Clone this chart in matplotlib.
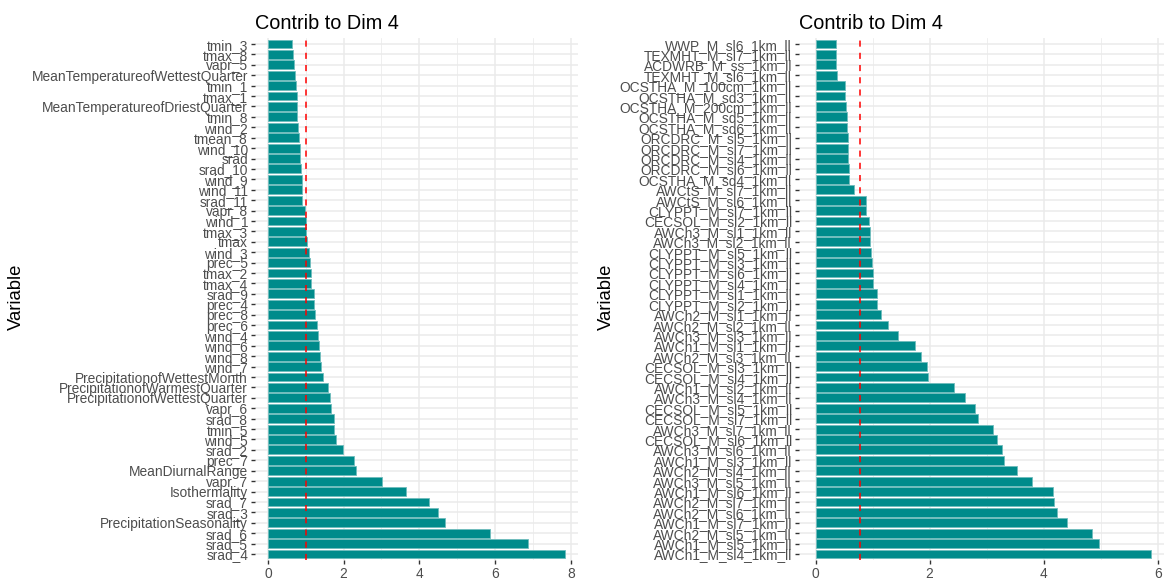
import matplotlib
matplotlib.use("Agg")
import matplotlib.pyplot as plt
from matplotlib.ticker import MultipleLocator

plt.rcParams['font.family'] = ['Liberation Sans', 'DejaVu Sans']

# ---- Data (top to bottom as displayed) ----
climate_vars = [
    "tmin_3", "tmax_8", "vapr_5", "MeanTemperatureofWettestQuarter", "tmin_1",
    "tmax_1", "MeanTemperatureofDriestQuarter", "tmin_8", "wind_2", "tmean_8",
    "wind_10", "srad", "srad_10", "wind_9", "wind_11", "srad_11", "vapr_8",
    "wind_1", "tmax_3", "tmax", "wind_3", "prec_5", "tmax_2", "tmax_4",
    "srad_9", "prec_4", "prec_8", "prec_6", "wind_4", "wind_6", "wind_8",
    "wind_7", "PrecipitationofWettestMonth", "PrecipitationofWarmestQuarter",
    "PrecipitationofWettestQuarter", "vapr_6", "srad_8", "tmin_5", "wind_5",
    "srad_2", "prec_7", "MeanDiurnalRange", "vapr_7", "Isothermality",
    "srad_7", "srad_3", "PrecipitationSeasonality", "srad_6", "srad_5", "srad_4",
]
climate_contrib = [
    0.63, 0.67, 0.70, 0.72, 0.74, 0.76, 0.76, 0.78, 0.79, 0.82,
    0.85, 0.86, 0.87, 0.89, 0.89, 0.90, 0.99, 1.00, 1.02, 1.03,
    1.08, 1.11, 1.13, 1.14, 1.21, 1.22, 1.24, 1.29, 1.32, 1.34,
    1.37, 1.41, 1.45, 1.60, 1.64, 1.68, 1.74, 1.75, 1.81, 1.99,
    2.28, 2.33, 3.02, 3.65, 4.26, 4.49, 4.68, 5.87, 6.86, 7.84,
]
climate_ref = 1.0

soil_vars = [
    "WWP_M_sl6_1km_ll", "TEXMHT_M_sl7_1km_ll", "ACDWRB_M_ss_1km_ll",
    "TEXMHT_M_sl6_1km_ll", "OCSTHA_M_100cm_1km_ll", "OCSTHA_M_sd3_1km_ll",
    "OCSTHA_M_200cm_1km_ll", "OCSTHA_M_sd5_1km_ll", "OCSTHA_M_sd6_1km_ll",
    "ORCDRC_M_sl5_1km_ll", "ORCDRC_M_sl7_1km_ll", "ORCDRC_M_sl4_1km_ll",
    "ORCDRC_M_sl6_1km_ll", "OCSTHA_M_sd4_1km_ll", "AWCtS_M_sl7_1km_ll",
    "AWCtS_M_sl6_1km_ll", "CLYPPT_M_sl7_1km_ll", "CECSOL_M_sl2_1km_ll",
    "AWCh3_M_sl1_1km_ll", "AWCh3_M_sl2_1km_ll", "CLYPPT_M_sl5_1km_ll",
    "CLYPPT_M_sl3_1km_ll", "CLYPPT_M_sl6_1km_ll", "CLYPPT_M_sl4_1km_ll",
    "CLYPPT_M_sl1_1km_ll", "CLYPPT_M_sl2_1km_ll", "AWCh2_M_sl1_1km_ll",
    "AWCh2_M_sl2_1km_ll", "AWCh3_M_sl3_1km_ll", "AWCh1_M_sl1_1km_ll",
    "AWCh2_M_sl3_1km_ll", "CECSOL_M_sl3_1km_ll", "CECSOL_M_sl4_1km_ll",
    "AWCh1_M_sl2_1km_ll", "AWCh3_M_sl4_1km_ll", "CECSOL_M_sl5_1km_ll",
    "CECSOL_M_sl7_1km_ll", "AWCh3_M_sl7_1km_ll", "CECSOL_M_sl6_1km_ll",
    "AWCh3_M_sl6_1km_ll", "AWCh1_M_sl3_1km_ll", "AWCh2_M_sl4_1km_ll",
    "AWCh3_M_sl5_1km_ll", "AWCh1_M_sl6_1km_ll", "AWCh2_M_sl7_1km_ll",
    "AWCh2_M_sl6_1km_ll", "AWCh1_M_sl7_1km_ll", "AWCh2_M_sl5_1km_ll",
    "AWCh1_M_sl5_1km_ll", "AWCh1_M_sl4_1km_ll",
]
soil_contrib = [
    0.35, 0.35, 0.36, 0.37, 0.51, 0.52, 0.54, 0.55, 0.56, 0.57,
    0.57, 0.57, 0.58, 0.58, 0.68, 0.88, 0.89, 0.93, 0.95, 0.96,
    0.98, 0.99, 1.01, 1.01, 1.07, 1.07, 1.14, 1.27, 1.45, 1.74,
    1.85, 1.95, 1.98, 2.42, 2.62, 2.80, 2.84, 3.11, 3.19, 3.27,
    3.30, 3.53, 3.79, 4.16, 4.18, 4.23, 4.41, 4.84, 4.97, 5.88,
]
soil_ref = 0.78

title_text = "Contrib to Dim 4"
ylabel_text = "Variable"

# ---- Figure ----
W, H = 1164, 583
fig = plt.figure(figsize=(W / 100, H / 100), dpi=100)

bar_color = "#008B8B"
edge_color = "#6fbcbc"
grid_color = "#EBEBEB"

def panel(rect, names, vals, ref, xlim, ylab_x):
    ax = fig.add_axes(rect)
    n = len(names)
    ypos = list(range(n))
    ax.barh(ypos, vals, height=0.85, color=bar_color, edgecolor=edge_color,
            linewidth=0.6, zorder=2)
    ax.axvline(ref, color="red", linestyle=(0, (4, 4)), linewidth=1.1, zorder=3)
    ax.set_ylim(n - 1 + 0.6, -0.6)
    ax.set_xlim(*xlim)
    ax.set_yticks(ypos)
    ax.set_yticklabels(names)
    ax.xaxis.set_major_locator(MultipleLocator(2))
    ax.xaxis.set_minor_locator(MultipleLocator(1))
    ax.grid(True, which="major", color=grid_color, linewidth=1.1, zorder=0)
    ax.grid(True, which="minor", axis="x", color=grid_color, linewidth=0.55, zorder=0)
    ax.set_axisbelow(True)
    for s in ax.spines.values():
        s.set_visible(False)
    ax.tick_params(axis="both", which="major", length=3, width=1,
                   color="#333333", labelcolor="#4D4D4D", labelsize=9.9, pad=2)
    ax.tick_params(axis="x", which="minor", length=0)
    ax.set_title(title_text, fontsize=14.3, pad=6, color="black", loc="left")
    fig.text(ylab_x / W, 1 - 297 / H, ylabel_text, rotation=90, fontsize=13.3,
             ha="center", va="center", color="black")
    return ax

bottom = 1 - 560.2 / H
top = 1 - 37.8 / H
panel([255 / W, bottom, (578 - 255) / W, top - bottom],
      climate_vars, climate_contrib, climate_ref, (-0.34, 8.19), 16)
panel([799 / W, bottom, (1164 - 799) / W, top - bottom],
      soil_vars, soil_contrib, soil_ref, (-0.29, 6.11), 606)

fig.savefig("out.png", dpi=100)
